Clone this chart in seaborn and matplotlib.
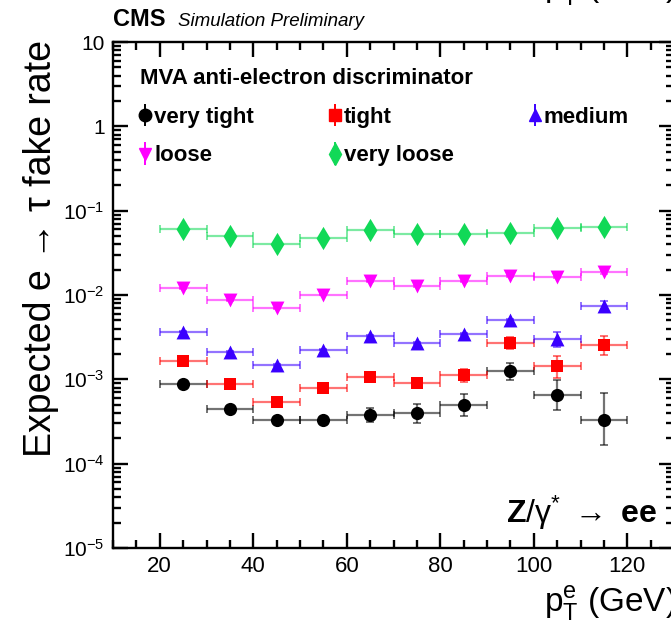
import numpy as np
import pandas as pd
import matplotlib
matplotlib.use('Agg')
import matplotlib.pyplot as plt
import matplotlib.ticker as mticker
import seaborn as sns

# bin centres and half widths (GeV)
pt_centres = [25, 35, 45, 55, 65, 75, 85, 95, 105, 115]
pt_halfwidth = [5, 5, 5, 5, 5, 5, 5, 5, 5, 5]

very_tight = [8.9e-4, 4.45e-4, 3.3e-4, 3.3e-4, 3.8e-4, 3.95e-4, 5.0e-4, 1.25e-3, 6.5e-4, 3.3e-4]
very_tight_lo = [2e-5, 1.5e-5, 1e-5, 1e-5, 6.4e-5, 9e-5, 1.3e-4, 2.7e-4, 2.2e-4, 1.65e-4]
very_tight_hi = [2e-5, 1.5e-5, 1e-5, 1e-5, 7.6e-5, 1.15e-4, 1.7e-4, 3.3e-4, 3.3e-4, 3.5e-4]

tight = [1.64e-3, 8.85e-4, 5.4e-4, 7.9e-4, 1.07e-3, 9.1e-4, 1.14e-3, 2.73e-3, 1.42e-3, 2.54e-3]
tight_lo = [3e-5, 2e-5, 1.5e-5, 2e-5, 4e-5, 8e-5, 2e-4, 4.2e-4, 3.7e-4, 6e-4]
tight_hi = [3e-5, 2e-5, 1.5e-5, 2e-5, 4e-5, 9e-5, 2e-4, 4.5e-4, 4.6e-4, 7.3e-4]

medium = [3.65e-3, 2.11e-3, 1.48e-3, 2.25e-3, 3.27e-3, 2.70e-3, 3.45e-3, 5.06e-3, 3.01e-3, 7.46e-3]
medium_lo = [5e-5, 4e-5, 3e-5, 4e-5, 6e-5, 6e-5, 1e-4, 2e-4, 5.8e-4, 9e-4]
medium_hi = [5e-5, 4e-5, 3e-5, 4e-5, 6e-5, 6e-5, 1e-4, 2e-4, 6e-4, 1.1e-3]

loose = [1.2e-2, 8.65e-3, 6.96e-3, 1.01e-2, 1.45e-2, 1.28e-2, 1.45e-2, 1.68e-2, 1.65e-2, 1.86e-2]
loose_err = [1.5e-4, 1e-4, 8e-5, 1.2e-4, 2e-4, 2e-4, 2.5e-4, 4e-4, 5e-4, 7e-4]

very_loose = [6.0e-2, 4.99e-2, 3.98e-2, 4.69e-2, 5.84e-2, 5.23e-2, 5.31e-2, 5.46e-2, 6.25e-2, 6.38e-2]
very_loose_err = [4e-4, 3e-4, 3e-4, 4e-4, 5e-4, 5e-4, 6e-4, 8e-4, 1e-3, 1.3e-3]

labels = ['very tight', 'tight', 'medium', 'loose', 'very loose']
colors = ['#000000', '#ff0000', '#3a00ff', '#ff00ff', '#11d957']
markers = ['o', 's', '^', 'v', 'd']
marker_sizes = [90, 75, 100, 100, 140]

series = {
    'very tight': (very_tight, very_tight_lo, very_tight_hi),
    'tight': (tight, tight_lo, tight_hi),
    'medium': (medium, medium_lo, medium_hi),
    'loose': (loose, loose_err, loose_err),
    'very loose': (very_loose, very_loose_err, very_loose_err),
}

rows = []
for name, (vals, lo, hi) in series.items():
    for x, xe, v, l, h in zip(pt_centres, pt_halfwidth, vals, lo, hi):
        rows.append({'pt': x, 'xerr': xe, 'rate': v, 'lo': l, 'hi': h, 'wp': name})
df = pd.DataFrame(rows)

sns.set_theme(style='ticks')
plt.rcParams.update({
    'font.family': ['Liberation Sans', 'DejaVu Sans'],
    'mathtext.fontset': 'custom',
    'mathtext.rm': 'Liberation Sans',
    'mathtext.it': 'Liberation Sans:italic',
    'mathtext.bf': 'Liberation Sans:bold',
    'text.color': 'black',
    'axes.labelcolor': 'black',
    'axes.linewidth': 1.7,
    'xtick.direction': 'in',
    'ytick.direction': 'in',
    'xtick.top': True,
    'ytick.right': True,
    'xtick.major.size': 11,
    'xtick.minor.size': 6,
    'ytick.major.size': 11,
    'ytick.minor.size': 6,
    'xtick.major.width': 1.7,
    'xtick.minor.width': 1.7,
    'ytick.major.width': 1.7,
    'ytick.minor.width': 1.7,
    'xtick.color': 'black',
    'ytick.color': 'black',
    'xtick.labelcolor': 'black',
    'ytick.labelcolor': 'black',
    'axes.edgecolor': 'black',
})

fig = plt.figure(figsize=(6.71, 6.28), dpi=100)
ax = fig.add_axes([113 / 671, 1 - 548 / 628, 561 / 671, 506 / 628])

for name, col, mk, ms in zip(labels, colors, markers, marker_sizes):
    sub = df[df['wp'] == name]
    ax.errorbar(sub['pt'], sub['rate'], xerr=sub['xerr'], yerr=[sub['lo'], sub['hi']],
                fmt='none', ecolor=col, alpha=0.55, elinewidth=1.6, capsize=3, capthick=1.4,
                zorder=2)
    sns.scatterplot(data=sub, x='pt', y='rate', marker=mk, color=col, s=ms,
                    edgecolor=col, linewidth=0, ax=ax, zorder=3, legend=False)

ax.set_yscale('log')
ax.set_xlim(10, 130)
ax.set_ylim(1e-5, 10)
ax.xaxis.set_major_locator(mticker.MultipleLocator(20))
ax.xaxis.set_minor_locator(mticker.MultipleLocator(5))
ax.yaxis.set_major_locator(mticker.LogLocator(base=10, numticks=10))
ax.yaxis.set_minor_locator(mticker.LogLocator(base=10, subs=np.arange(2, 10), numticks=20))
ax.yaxis.set_minor_formatter(mticker.NullFormatter())


def ylab(v, pos):
    e = int(round(np.log10(v)))
    if e == 1:
        return '10'
    if e == 0:
        return '1'
    return r'$10^{%d}$' % e


ax.yaxis.set_major_formatter(mticker.FuncFormatter(ylab))
ax.tick_params(axis='x', which='major', labelsize=16, pad=6)
ax.tick_params(axis='y', which='major', labelsize=15, pad=6)
ax.set_xlabel('')
ax.set_ylabel('')

# legend with vertical bars only
handles = []
for name, col, mk in zip(labels, colors, markers):
    h = ax.errorbar([-100], [1e-7], yerr=[[0.0], [0.0]], fmt=mk, color=col, ecolor=col,
                    markersize=9 if mk != 'd' else 11, elinewidth=1.4, capsize=0)
    handles.append(h)
order = [0, 3, 1, 4, 2]
leg = ax.legend([handles[i] for i in order], [labels[i] for i in order], ncol=3,
                loc='upper left', bbox_to_anchor=(0.03, 0.89), frameon=False,
                prop={'weight': 'bold', 'size': 16}, handlelength=0.6, handletextpad=0.1,
                columnspacing=3.35, labelspacing=0.8, borderaxespad=0)

fig.text(140 / 671, 1 - 78 / 628, 'MVA anti-electron discriminator', fontsize=16,
         fontweight='bold', va='center', ha='left')
fig.text(113 / 671, 1 - 20 / 628, 'CMS', fontsize=17, fontweight='bold', va='center', ha='left')
fig.text(178 / 671, 1 - 21 / 628, 'Simulation Preliminary', fontsize=13.5, style='italic',
         va='center', ha='left')
fig.text(657 / 671, 1 - 523 / 628, r'$\mathbf{Z}/\mathrm{\gamma}^{*}\ \rightarrow\ \mathbf{ee}$',
         fontsize=23, ha='right', va='baseline')
fig.text(41 / 671, 1 - 40 / 628, 'Expected e \u2192 \u03c4 fake rate', fontsize=27,
         rotation=90, ha='center', va='top')
fig.text(676 / 671, 1 - 612 / 628, r'$\mathrm{p}_{\mathrm{T}}^{\mathrm{e}}$ (GeV)',
         fontsize=24, ha='right', va='baseline')
fig.text(676 / 671, 1 + 3 / 628, r'$\mathrm{p}_{\mathrm{T}}^{\tau}$ (GeV)',
         fontsize=24, ha='right', va='baseline')

fig.savefig('out.png', dpi=100)
